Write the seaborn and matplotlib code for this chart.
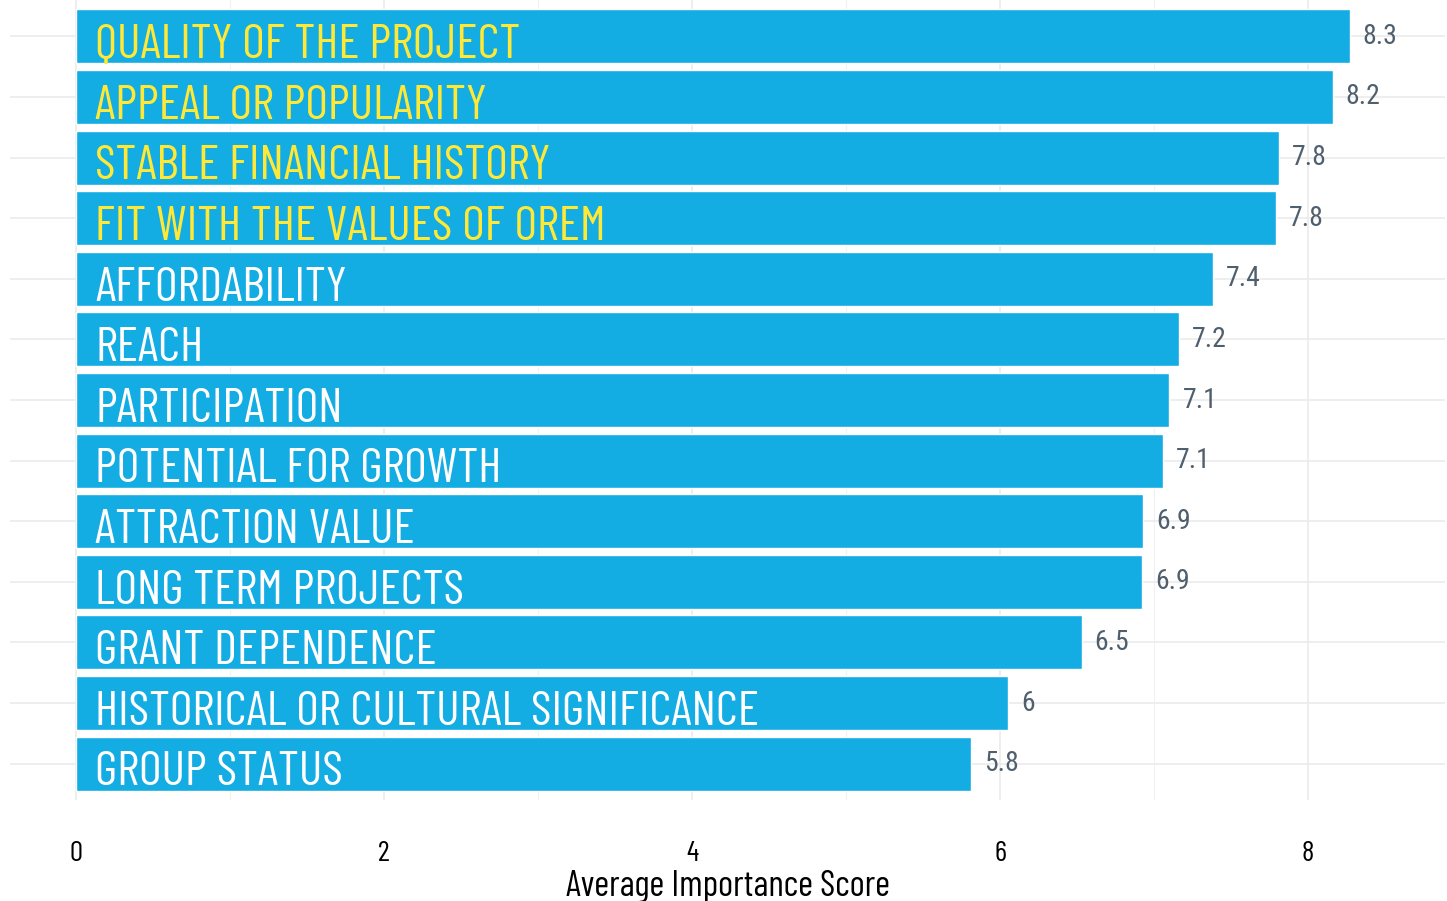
import matplotlib
matplotlib.use("Agg")
import matplotlib.pyplot as plt
import seaborn as sns
import pandas as pd

# Data
criteria = [
    "QUALITY OF THE PROJECT",
    "APPEAL OR POPULARITY",
    "STABLE FINANCIAL HISTORY",
    "FIT WITH THE VALUES OF OREM",
    "AFFORDABILITY",
    "REACH",
    "PARTICIPATION",
    "POTENTIAL FOR GROWTH",
    "ATTRACTION VALUE",
    "LONG TERM PROJECTS",
    "GRANT DEPENDENCE",
    "HISTORICAL OR CULTURAL SIGNIFICANCE",
    "GROUP STATUS",
]
scores = [8.27, 8.16, 7.81, 7.79, 7.38, 7.16, 7.10, 7.06, 6.93, 6.92, 6.53, 6.05, 5.81]
score_labels = ["8.3", "8.2", "7.8", "7.8", "7.4", "7.2", "7.1", "7.1", "6.9", "6.9", "6.5", "6", "5.8"]
highlight = [True, True, True, True, False, False, False, False, False, False, False, False, False]

df = pd.DataFrame({"criterion": criteria, "score": scores})

gothic = ["Barlow Condensed", "Pathway Gothic One", "DejaVu Sans"]
cond = ["Roboto Condensed", "DejaVu Sans"]

sns.set_theme(style="whitegrid")
plt.rcParams["font.family"] = gothic

fig = plt.figure(figsize=(14.47, 9.01), dpi=100)
ax = fig.add_axes([10 / 1447, 1 - 800 / 901, 1435 / 1447, 800 / 901])

sns.barplot(data=df, x="score", y="criterion", color="#13ace3", saturation=1,
            width=0.89, ax=ax, orient="h")

ax.set_xlim(-0.43, 8.89)
ax.set_ylim(12.6, -0.6)
ax.set_xticks([0, 2, 4, 6, 8])
ax.set_xticks([1, 3, 5, 7], minor=True)
ax.grid(which="major", axis="both", color="#ebebeb", linewidth=1.2)
ax.grid(which="minor", axis="x", color="#f1f1f1", linewidth=0.8)
ax.set_axisbelow(True)
ax.set_yticks(range(len(criteria)))
ax.set_yticklabels([])
ax.tick_params(axis="y", length=0)
ax.tick_params(axis="x", which="both", length=0, pad=29.5, labelsize=21, labelcolor="black")
for s in ax.spines.values():
    s.set_visible(False)
ax.set_ylabel("")
ax.set_xlabel("Average Importance Score", fontsize=26, color="black")
ax.xaxis.set_label_coords(0.5, -0.088)

# category names inside the bars, score labels past the bar ends
for i, (name, val, lab, hl) in enumerate(zip(criteria, scores, score_labels, highlight)):
    ax.text(0.125, i + 0.36, name, va="baseline", ha="left", fontsize=35.5,
            color="#ffe936" if hl else "white", family=gothic)
    ax.text(val + 0.085, i, lab, va="center", ha="left", fontsize=20,
            color="#4f5f6d", family=cond)

fig.savefig("out.png", dpi=100)
